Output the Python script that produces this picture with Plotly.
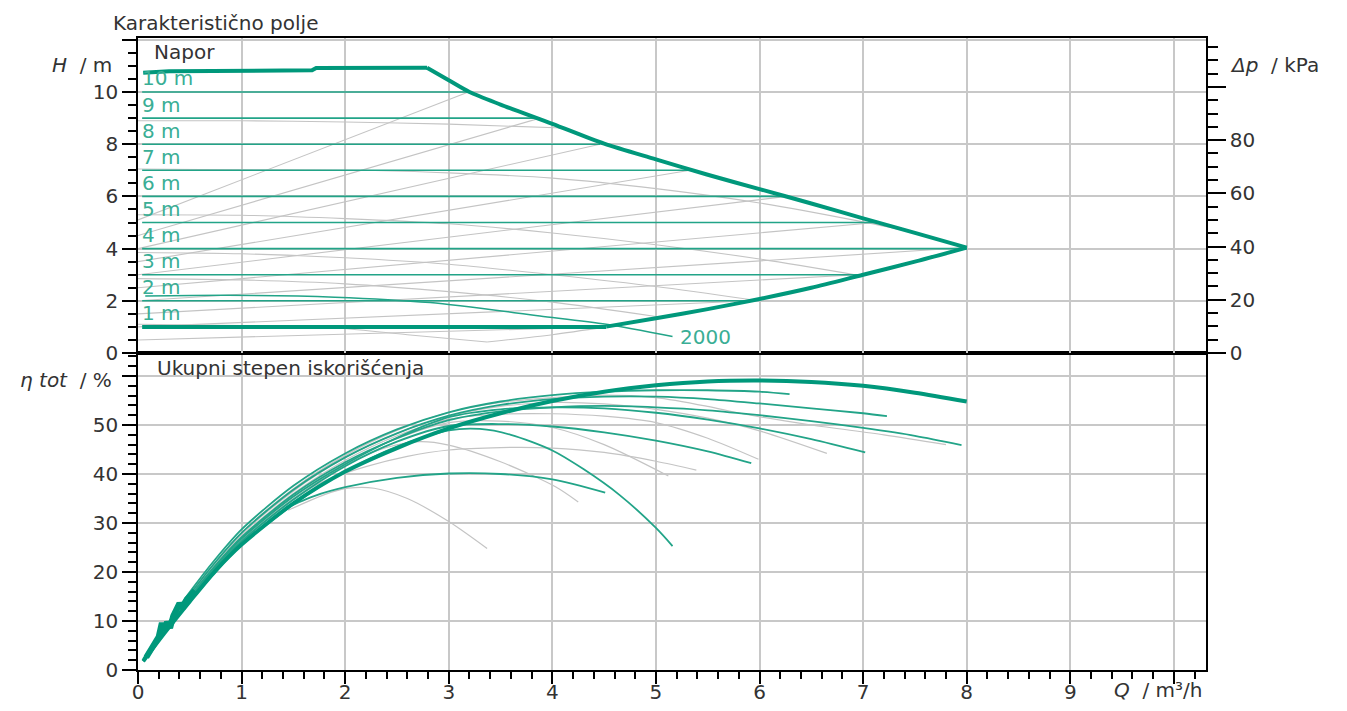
import plotly.graph_objects as go

# ---------------- data ----------------
# Top panel: constant-head (Δp-c) lines, labels "1 m" .. "10 m"
head_levels = [1, 2, 3, 4, 5, 6, 7, 8, 9, 10]
head_line_end_q = [4.52, 5.94, 6.95, 8.0, 7.13, 6.26, 5.33, 4.46, 3.88, 3.19]
head_line_start_q = 0.04

# Top panel: operating-field envelope
env_flat_q = [0.05, 0.3, 1.68, 1.72, 2.79]
env_flat_h = [10.74, 10.8, 10.83, 10.92, 10.93]
env_fall_q = [2.79, 3.0, 3.2, 3.5, 4.0, 4.5, 5.0, 5.5, 6.0, 6.5, 7.0, 7.5, 8.0]
env_fall_h = [10.93, 10.45, 10.0, 9.52, 8.78, 8.02, 7.42, 6.83, 6.28, 5.73, 5.16, 4.6, 4.04]
env_lower_q = [4.52, 5.0, 5.5, 6.0, 6.5, 7.0, 7.5, 8.0]
env_lower_h = [1.01, 1.33, 1.68, 2.07, 2.5, 3.0, 3.5, 4.04]
env_lower_ext_q = [3.37, 4.0, 4.52]
env_lower_ext_h = [0.42, 0.7, 1.0]

# Top panel: constant speed curve "2000"
n2000_q = [0.07, 0.87, 1.9, 2.82, 3.88, 4.52, 5.16]
n2000_h = [2.18, 2.21, 2.14, 1.93, 1.42, 1.1, 0.63]

# Top panel: Δp-v lines (gray, rising)
dpv_start_h = [0.5, 1.0, 1.5, 2.0, 2.5, 3.0, 3.5, 4.0, 4.5, 5.1]
dpv_end_q = [4.52, 5.94, 6.95, 8.0, 7.13, 6.26, 5.33, 4.46, 3.88, 3.19]
dpv_end_h = [1.0, 2.0, 3.0, 4.04, 5.0, 6.0, 7.0, 8.0, 9.0, 10.0]

# Top panel: other constant speed curves (gray, falling)
spd1_q = [0, 1, 2, 3, 4.1]
spd1_h = [8.9, 8.9, 8.85, 8.77, 8.62]
spd2_q = [0, 0.6, 2.2, 3, 4, 5, 6, 6.9, 7.5, 8.0]
spd2_h = [7.05, 7.03, 7.0, 6.9, 6.7, 6.3, 5.75, 5.1, 4.6, 4.04]
spd3_q = [0, 1, 2, 3, 4, 5, 6, 6.95]
spd3_h = [5.3, 5.28, 5.15, 4.95, 4.6, 4.15, 3.6, 2.98]
spd4_q = [0, 1, 2, 3, 4, 5, 5.94]
spd4_h = [3.85, 3.8, 3.65, 3.4, 3.0, 2.55, 2.03]
spd5_q = [0, 1, 2, 3, 4, 5]
spd5_h = [2.85, 2.8, 2.65, 2.35, 1.95, 1.4]
spd6_q = [0, 1, 1.94, 2.6, 3.37]
spd6_h = [1.1, 1.05, 0.95, 0.7, 0.42]

# Bottom panel: total efficiency curves
eta_max_q = [0.05, 0.25, 0.5, 0.75, 1.0, 1.5, 2.0, 2.5, 3.0, 3.5, 4.0, 4.5, 5.0, 5.5, 6.0, 6.5, 7.0, 7.5, 8.0]
eta_max = [1.8, 7.4, 14.0, 20.3, 25.6, 34.0, 40.5, 45.3, 49.3, 52.4, 54.9, 56.8, 58.1, 58.9, 59.1, 58.8, 58.0, 56.6, 54.8]

eta_t1_q = [0.05, 0.25, 0.5, 0.75, 1.0, 1.5, 2.0, 2.5, 3.0, 3.5, 4.0, 4.5, 5.0, 5.5, 6.0, 6.29]
eta_t1 = [2.3, 8.4, 15.9, 22.7, 28.7, 37.6, 44.2, 49.1, 52.6, 54.8, 56.1, 56.8, 57.1, 57.1, 56.8, 56.3]
eta_t2_q = [0.05, 0.25, 0.5, 0.75, 1.0, 1.5, 2.0, 2.5, 3.0, 3.5, 4.0, 4.5, 5.0, 5.5, 6.0, 6.5, 7.0, 7.23]
eta_t2 = [2.2, 8.1, 15.4, 22.1, 28.0, 36.8, 43.4, 48.3, 51.9, 54.1, 55.3, 55.8, 55.8, 55.3, 54.4, 53.4, 52.4, 51.8]
eta_t3_q = [0.05, 0.25, 0.5, 0.75, 1.0, 1.5, 2.0, 2.5, 3.0, 3.5, 4.0, 4.5, 5.0, 5.5, 6.0, 6.5, 7.0, 7.5, 7.95]
eta_t3 = [2.0, 7.8, 14.9, 21.4, 27.1, 35.8, 42.4, 47.3, 51.0, 52.8, 53.6, 53.9, 53.6, 53.0, 52.0, 50.8, 49.4, 47.8, 45.9]
eta_t4_q = [0.05, 0.25, 0.5, 0.75, 1.0, 1.5, 2.0, 2.5, 3.0, 3.5, 4.0, 4.5, 5.0, 5.5, 6.0, 6.5, 7.02]
eta_t4 = [2.0, 7.7, 14.7, 21.1, 26.8, 35.4, 42.0, 47.4, 51.6, 53.2, 53.6, 53.4, 52.5, 51.1, 49.3, 47.1, 44.4]
eta_t5_q = [0.05, 0.25, 0.5, 0.75, 1.0, 1.5, 2.0, 2.5, 3.0, 3.5, 4.0, 4.5, 5.0, 5.5, 5.92]
eta_t5 = [1.9, 7.6, 14.4, 20.8, 26.3, 34.8, 41.6, 46.6, 49.8, 50.2, 49.7, 48.5, 46.8, 44.6, 42.2]
eta_t6_q = [0.05, 0.25, 0.5, 0.75, 1.0, 1.5, 2.0, 2.5, 3.0, 3.3, 3.6, 4.0, 4.3, 4.65, 5.0, 5.16]
eta_t6 = [1.8, 7.3, 13.9, 20.1, 25.5, 33.8, 40.5, 45.6, 48.9, 49.2, 48.0, 44.8, 41.0, 35.7, 29.0, 25.3]
eta_t7_q = [1.42, 1.7, 2.0, 2.5, 3.0, 3.5, 4.0, 4.51]
eta_t7 = [33.0, 35.5, 37.3, 39.2, 40.1, 40.0, 38.9, 36.2]

eta_g1_q = [1.45, 1.8, 2.03, 2.28, 2.6, 3.0, 3.37]
eta_g1 = [32.6, 35.8, 37.1, 37.1, 35.0, 30.3, 24.8]
eta_g2_q = [0.05, 0.5, 1.0, 1.5, 2.0, 2.4, 2.72, 3.0, 3.5, 4.03, 4.25]
eta_g2 = [2.0, 14.5, 26.5, 35.0, 41.8, 45.4, 46.6, 45.9, 42.5, 37.4, 34.3]
eta_g3_q = [0.05, 0.5, 1.0, 1.45, 1.77, 2.2, 2.6, 3.0, 3.5, 4.0, 4.5, 5.0, 5.39]
eta_g3 = [1.9, 14.3, 26.0, 34.0, 38.3, 41.5, 43.6, 44.9, 45.4, 45.3, 44.4, 42.6, 40.8]
eta_g4_q = [0.05, 0.5, 1.0, 1.5, 2.0, 2.5, 3.0, 3.5, 4.0, 4.5, 5.12]
eta_g4 = [2.0, 14.6, 26.6, 35.4, 42.2, 47.2, 50.5, 50.8, 49.5, 46.0, 39.6]
eta_g5_q = [0.05, 0.5, 1.0, 1.5, 2.0, 2.5, 3.0, 3.5, 4.0, 4.5, 5.0, 5.5, 5.99]
eta_g5 = [2.1, 15.0, 27.2, 36.0, 42.8, 47.8, 51.2, 52.2, 52.3, 51.8, 50.5, 47.3, 43.0]
eta_g6_q = [0.05, 0.5, 1.0, 1.5, 2.0, 2.5, 3.0, 3.5, 4.0, 4.5, 5.0, 5.5, 6.0, 6.65]
eta_g6 = [2.1, 15.3, 27.6, 36.5, 43.3, 48.3, 51.8, 53.8, 54.6, 54.3, 53.2, 51.4, 48.8, 44.2]
eta_g7_q = [0.05, 0.5, 1.0, 1.5, 2.0, 2.5, 3.0, 3.5, 4.0, 4.5, 5.0, 5.5, 5.81, 6.5, 7.2, 7.8]
eta_g7 = [2.2, 15.5, 28.0, 37.0, 43.8, 48.9, 52.6, 54.6, 55.6, 56.1, 55.6, 53.8, 52.4, 50.0, 48.0, 46.0]

# jagged start of the efficiency bundle
eta_noise_q = [0.08, 0.15, 0.2, 0.23, 0.25, 0.28, 0.31, 0.34, 0.37, 0.4, 0.43, 0.47, 0.55]
eta_noise = [2.6, 5.0, 6.8, 9.6, 8.2, 9.8, 8.6, 11.0, 12.4, 13.6, 12.6, 14.4, 16.2]

# axes
x_ticks = [0, 1, 2, 3, 4, 5, 6, 7, 8, 9, 10]
x_ticktext = ["0", "1", "2", "3", "4", "5", "6", "7", "8", "9", ""]
h_ticks = [0, 2, 4, 6, 8, 10, 12]
h_ticktext = ["0", "2", "4", "6", "8", "10", ""]
eta_ticks = [0, 10, 20, 30, 40, 50, 60]
eta_ticktext = ["0", "10", "20", "30", "40", "50", ""]
dp_ticks = [0, 20, 40, 60, 80, 100]
dp_ticktext = ["0", "20", "40", "60", "80", ""]
kpa_per_m = 9.81

# ---------------- styling ----------------
TEAL = "#00987b"
TEAL_THIN = "#22a488"
TEAL_TXT = "#3aae95"
GRAY = "#c4c4c4"
GRID = "#c8c8c8"
FONT = "DejaVu Sans"
TXT = "#333333"

x_max = 10.31
h_max = 12.07
eta_max_axis = 64.7
split = 0.5016

# page has an 8 px body margin: figure is sized/offset to compensate
FIG_W, FIG_H = 1339, 703
OFF = 8
M_L, M_T = 138 - OFF, 38 - OFF
M_R = FIG_W - (1206 - OFF)
M_B = FIG_H - (670 - OFF)

fig = go.Figure()

def line(q, v, color, width, xa="x2", ya="y2", shape="linear"):
    fig.add_trace(go.Scatter(x=q, y=v, mode="lines", xaxis=xa, yaxis=ya,
                             line=dict(color=color, width=width, shape=shape, smoothing=0.8),
                             hoverinfo="skip", showlegend=False))

# ---- top panel ----
for hs, hq, he in zip(dpv_start_h, dpv_end_q, dpv_end_h):
    line([0, hq], [hs, he], GRAY, 1.1)
for q, h in [(spd1_q, spd1_h), (spd2_q, spd2_h), (spd3_q, spd3_h), (spd4_q, spd4_h),
             (spd5_q, spd5_h), (spd6_q, spd6_h), (env_lower_ext_q, env_lower_ext_h)]:
    line(q, h, GRAY, 1.1, shape="spline")

for hv, qe in zip(head_levels, head_line_end_q):
    line([head_line_start_q, qe], [hv, hv], TEAL if hv == 1 else TEAL_THIN, 4 if hv == 1 else 1.6)

line(n2000_q, n2000_h, TEAL_THIN, 1.5, shape="spline")
line(env_flat_q, env_flat_h, TEAL, 4)
line(env_fall_q, env_fall_h, TEAL, 4, shape="spline")
line(env_lower_q, env_lower_h, TEAL, 4, shape="spline")

# ---- bottom panel ----
for q, e in [(eta_g1_q, eta_g1), (eta_g2_q, eta_g2), (eta_g3_q, eta_g3), (eta_g4_q, eta_g4),
             (eta_g5_q, eta_g5), (eta_g6_q, eta_g6), (eta_g7_q, eta_g7)]:
    line(q, e, GRAY, 1.2, xa="x", ya="y", shape="spline")
for q, e in [(eta_t1_q, eta_t1), (eta_t2_q, eta_t2), (eta_t3_q, eta_t3), (eta_t4_q, eta_t4),
             (eta_t5_q, eta_t5), (eta_t6_q, eta_t6), (eta_t7_q, eta_t7)]:
    line(q, e, TEAL_THIN, 1.8, xa="x", ya="y", shape="spline")
line(eta_max_q, eta_max, TEAL, 4, xa="x", ya="y", shape="spline")
line(eta_noise_q, eta_noise, TEAL, 6, xa="x", ya="y")

# dummy trace for the right axis
fig.add_trace(go.Scatter(x=[0], y=[0], xaxis="x2", yaxis="y3", mode="markers",
                         marker=dict(opacity=0), hoverinfo="skip", showlegend=False))

tickfont = dict(family=FONT, size=20, color=TXT)
common_y = dict(showline=True, linecolor="black", linewidth=1.5, ticks="outside",
                tickcolor="black", tickwidth=1.5, ticklen=14, tickfont=tickfont,
                gridcolor=GRID, gridwidth=1.5, zeroline=False, mirror=True, automargin=False)

fig.update_layout(
    width=FIG_W, height=FIG_H,
    margin=dict(l=M_L, r=M_R, t=M_T, b=M_B, autoexpand=False),
    paper_bgcolor="white", plot_bgcolor="white",
    font=dict(family=FONT, color=TXT),
    xaxis=dict(domain=[0, 1], anchor="y", range=[0, x_max], tickmode="array",
               tickvals=x_ticks, ticktext=x_ticktext, showline=True, linecolor="black",
               linewidth=1.5, mirror=True, ticks="outside", ticklen=12, tickcolor="black",
               tickwidth=1.5, tickfont=tickfont, gridcolor=GRID, gridwidth=1.5, zeroline=False,
               automargin=False, ticklabelstandoff=-9,
               minor=dict(tickmode="linear", tick0=0, dtick=0.2, ticks="outside", ticklen=7,
                          tickcolor="black", tickwidth=1.5, showgrid=False)),
    xaxis2=dict(domain=[0, 1], anchor="y2", matches="x", range=[0, x_max], tickmode="array",
                tickvals=x_ticks, showticklabels=False, ticks="", showline=True,
                linecolor="black", linewidth=1.5, mirror=True, gridcolor=GRID, gridwidth=1.5,
                zeroline=False, automargin=False),
    yaxis=dict(domain=[0, split], anchor="x", range=[0, eta_max_axis], tickmode="array",
               tickvals=eta_ticks, ticktext=eta_ticktext,
               minor=dict(tickmode="linear", tick0=0, dtick=2, ticks="outside", ticklen=8,
                          tickcolor="black", tickwidth=1.5, showgrid=False), **common_y),
    yaxis2=dict(domain=[split, 1], anchor="x2", range=[0, h_max], tickmode="array",
                tickvals=h_ticks, ticktext=h_ticktext,
                minor=dict(tickmode="linear", tick0=0, dtick=0.5, ticks="outside", ticklen=8,
                           tickcolor="black", tickwidth=1.5, showgrid=False), **common_y),
    yaxis3=dict(overlaying="y2", anchor="x2", side="right", range=[0, h_max * kpa_per_m],
                tickmode="array", tickvals=dp_ticks, ticktext=dp_ticktext, showgrid=False,
                zeroline=False, showline=True, linecolor="black", linewidth=1.5,
                ticks="outside", ticklen=18, tickcolor="black", tickwidth=1.5, tickfont=tickfont,
                automargin=False,
                minor=dict(tickmode="linear", tick0=0, dtick=5, ticks="outside", ticklen=10,
                           tickcolor="black", tickwidth=1.5, showgrid=False)),
)

def px_x(px):
    return (px - 138) / 1068.0

def px_y(py):
    return (670 - py) / 632.0

ann = []
def add_text(text, px, py, xanchor="left", size=20, color=TXT, yanchor="middle"):
    ann.append(dict(text=text, x=px_x(px), y=px_y(py), xref="paper", yref="paper",
                    xanchor=xanchor, yanchor=yanchor, showarrow=False,
                    font=dict(family=FONT, size=size, color=color)))

add_text("Karakteristično polje", 111, 8.5, size=20, yanchor="top")
add_text("<i>H</i>  / m", 114, 65, xanchor="right")
add_text("<i>η tot</i>  / %", 114, 380, xanchor="right")
add_text("<i>Δp</i>  / kPa", 1228, 65)
add_text("Napor", 152, 52)
add_text("Ukupni stepen iskorišćenja", 155, 368)
add_text("<i>Q</i>  / m³/h", 1204, 690, xanchor="right")

for hv in head_levels:
    ann.append(dict(text=f"{hv} m", x=0.02, y=hv + 0.52, xref="x2", yref="y2",
                    xanchor="left", yanchor="middle", showarrow=False,
                    font=dict(family=FONT, size=20, color=TEAL_TXT)))
ann.append(dict(text="2000", x=5.21, y=0.62, xref="x2", yref="y2", xanchor="left",
                yanchor="middle", showarrow=False, font=dict(family=FONT, size=20, color=TEAL_TXT)))

fig.update_layout(annotations=ann)
fig.write_html("out.html")
